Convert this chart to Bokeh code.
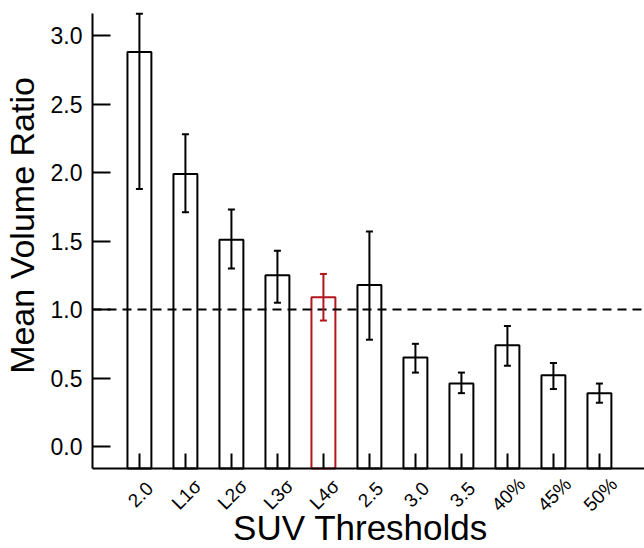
from bokeh.plotting import figure
from bokeh.models import (Range1d, FixedTicker, ColumnDataSource, Whisker, TeeHead,
                          PrintfTickFormatter, Label, LinearAxis)
from bokeh.core.properties import value
from bokeh.embed import file_html
from bokeh.resources import INLINE
import math

categories = ["2.0", "L1σ", "L2σ", "L3σ", "L4σ", "2.5", "3.0", "3.5", "40%", "45%", "50%"]
means = [2.88, 1.99, 1.51, 1.25, 1.09, 1.18, 0.65, 0.46, 0.74, 0.52, 0.39]
err_upper = [3.16, 2.28, 1.73, 1.43, 1.26, 1.57, 0.75, 0.54, 0.88, 0.61, 0.46]
err_lower = [1.88, 1.71, 1.30, 1.05, 0.92, 0.78, 0.54, 0.39, 0.59, 0.42, 0.32]
colors = ["black", "black", "black", "black", "#b2161c", "black", "black", "black", "black", "black", "black"]
y_ticks = [0.0, 0.5, 1.0, 1.5, 2.0, 2.5, 3.0]
ref_level = 1.0
x_title = "SUV Thresholds"
y_title = "Mean Volume Ratio"

x_pos = list(range(len(categories)))
# axis extents (data units)
ax_x0, ax_x1 = -1.02, 10.98
ax_y0, ax_y1 = -0.16, 3.16

# the frame covers the whole canvas; axes sit at fixed locations inside it
p = figure(frame_width=644, frame_height=548, output_backend="svg", toolbar_location=None,
           x_range=Range1d(-3.02, 10.98), y_range=Range1d(-0.744, 3.256),
           x_axis_location=None, y_axis_location=None,
           min_border_left=0, min_border_right=0, min_border_top=0, min_border_bottom=0)
p.outline_line_color = None
p.grid.visible = False
p.background_fill_color = "white"

src = ColumnDataSource(dict(x=x_pos, top=means, up=err_upper, lo=err_lower, c=colors,
                            cat=categories))

p.vbar(x="x", top="top", bottom=ax_y0, width=0.52, source=src, fill_color="white",
       line_color="c", line_width=2)

p.line(x=[ax_x0, ax_x1], y=[ref_level, ref_level], line_color="black", line_width=2,
       line_dash="9 6")

wh = Whisker(base="x", upper="up", lower="lo", source=src, line_color="c", line_width=2,
             level="annotation",
             upper_head=TeeHead(size=7, line_width=2, line_color="c"),
             lower_head=TeeHead(size=7, line_width=2, line_color="c"))
p.add_layout(wh)

font = "Liberation Sans"

xa = LinearAxis(fixed_location=ax_y0, bounds=(ax_x0, ax_x1))
xa.ticker = FixedTicker(ticks=x_pos)
xa.major_label_text_color = None
xa.major_tick_in = 15
xa.major_tick_out = 0
xa.minor_tick_line_color = None
xa.axis_line_width = 2
xa.major_tick_line_width = 2
p.add_layout(xa, "below")

ya = LinearAxis(fixed_location=ax_x0, bounds=(ax_y0, ax_y1))
ya.ticker = FixedTicker(ticks=y_ticks)
ya.formatter = PrintfTickFormatter(format="%.1f")
ya.major_tick_in = 18
ya.major_tick_out = 0
ya.minor_tick_line_color = None
ya.axis_line_width = 2
ya.major_tick_line_width = 2
ya.major_label_text_font = font
ya.major_label_text_font_size = "23px"
ya.major_label_text_color = "black"
ya.major_label_standoff = 10
p.add_layout(ya, "left")

# rotated category labels centred under each tick
p.text(x="x", y=ax_y0, text="cat", source=src, angle=math.pi / 4, text_align="center",
       text_baseline="middle", x_offset=1, y_offset=26, text_font=value(font),
       text_font_size="19px", text_color="black")

xl = Label(x=360, y=21, x_units="screen", y_units="screen", text=x_title,
           text_align="center", text_baseline="middle", text_font=font,
           text_font_size="35px", text_color="black")
p.add_layout(xl)

yl = Label(x=21, y=323, x_units="screen", y_units="screen", text=y_title, angle=math.pi / 2,
           text_align="center", text_baseline="middle", text_font=font,
           text_font_size="34px", text_color="black")
p.add_layout(yl)

open("out.html", "w").write(file_html(p, INLINE))
